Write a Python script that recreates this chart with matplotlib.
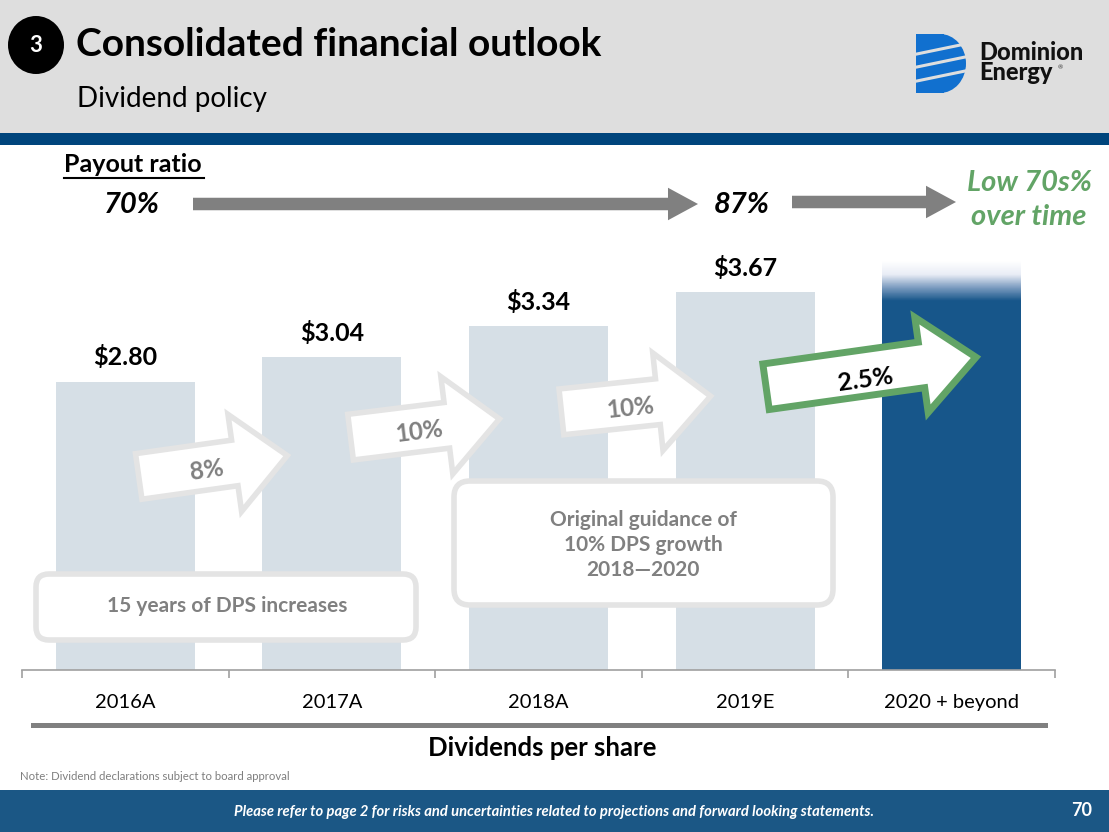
"""
Dominion Energy - consolidated financial outlook, dividend policy slide.
Writes out.png (1109x832).
"""

import numpy as np
import matplotlib
matplotlib.use("Agg")
import matplotlib.pyplot as plt
from matplotlib.patches import Polygon, FancyBboxPatch, Rectangle, Ellipse


W, H = 1109, 832
FONT = "Lato"

# data
categories = ["2016A", "2017A", "2018A", "2019E", "2020 + beyond"]
dps = [2.80, 3.04, 3.34, 3.67, 3.97]          # last bar is the open-ended outlook
dps_labels = ["$2.80", "$3.04", "$3.34", "$3.67", ""]
growth_labels = ["8%", "10%", "10%", "2.5%"]
payout_labels = ["70%", "87%"]
payout_outlook = "Low 70s%\nover time"

LIGHT_BAR = "#D6DFE6"
DARK_BAR = "#17568A"
HEADER_GRAY = "#DEDEDE"
HEADER_BLUE = "#00457C"
FOOTER_BLUE = "#1B5785"
GREEN = "#62A466"
GRAY_TXT = "#808080"
BOX_EDGE = "#E4E4E4"


def block_arrow(ax, cx, cy, length, shaft_h, head_len, head_h, angle, **kw):
    # arrow polygon in pixel coords (y down), rotated by angle deg (ccw on screen)
    x0 = -length / 2
    xh = length / 2 - head_len
    pts = np.array([
        [x0, -shaft_h / 2], [xh, -shaft_h / 2], [xh, -head_h / 2],
        [length / 2, 0], [xh, head_h / 2], [xh, shaft_h / 2], [x0, shaft_h / 2],
    ])
    a = np.deg2rad(angle)
    rot = np.array([[np.cos(a), np.sin(a)], [-np.sin(a), np.cos(a)]])
    pts = pts @ rot.T + [cx, cy]
    ax.add_patch(Polygon(pts, closed=True, joinstyle="miter", **kw))


def main():
    fig = plt.figure(figsize=(W / 100, H / 100), dpi=100)
    fig.patch.set_facecolor("white")

    # ---- bar chart, bottom spine at y=670px, spans x 22..1055px
    ax = fig.add_axes([22 / W, (H - 670) / H, (1055 - 22) / W, 432 / H], zorder=1)
    x = np.arange(len(categories))
    colors = [LIGHT_BAR] * (len(categories) - 1) + [DARK_BAR]
    ymax = 432 / 103.0
    ax.bar(x, dps, width=0.672, color=colors, zorder=1)

    # fade the top of the outlook bar into white
    fade_top = dps[-1]
    fade_bot = fade_top - 40 / 103.0
    grad = np.linspace(0, 1, 128).reshape(-1, 1)
    cmap = matplotlib.colors.LinearSegmentedColormap.from_list(
        "fade", ["white", "#E9EDF6", "#7C9CC0", DARK_BAR])
    ax.imshow(grad, extent=(x[-1] - 0.336, x[-1] + 0.336, fade_bot, fade_top),
              cmap=cmap, aspect="auto", zorder=2, interpolation="nearest")

    for xi, v, lab in zip(x, dps, dps_labels):
        if lab:
            ax.text(xi, v + 0.12, lab, ha="center", va="bottom", fontsize=18,
                    fontweight="bold", family=FONT, color="black")

    ax.set_xlim(-0.5, len(categories) - 0.5)
    ax.set_ylim(0, ymax)
    for s in ["top", "right", "left"]:
        ax.spines[s].set_visible(False)
    ax.spines["bottom"].set_color("#A0A0A0")
    ax.spines["bottom"].set_linewidth(1.2)
    ax.set_yticks([])
    ax.set_xticks(x)
    ax.set_xticklabels(categories, fontsize=14.5, family=FONT)
    ax.tick_params(axis="x", which="major", length=0, pad=17)
    ax.set_xticks(np.arange(-0.5, len(categories)), minor=True)
    ax.tick_params(axis="x", which="minor", length=5.5, color="#A0A0A0", width=1.2)
    ax.patch.set_alpha(0)

    # ---- overlay in pixel coordinates for slide furniture
    ov = fig.add_axes([0, 0, 1, 1], zorder=2)
    ov.set_xlim(0, W)
    ov.set_ylim(H, 0)
    ov.axis("off")
    ov.patch.set_alpha(0)

    # header
    ov.add_patch(Rectangle((0, 0), W, 133, color=HEADER_GRAY, lw=0))
    ov.add_patch(Rectangle((0, 133), W, 12, color=HEADER_BLUE, lw=0))
    ov.add_patch(Ellipse((36, 45), 56, 58, color="black", lw=0))
    ov.text(36, 46, "3", ha="center", va="center", color="white", fontsize=16,
            fontweight="bold", family=FONT)
    ov.text(76, 45, "Consolidated financial outlook", ha="left", va="center",
            fontsize=28, fontweight="bold", family=FONT, color="black")
    ov.text(77, 99, "Dividend policy", ha="left", va="center", fontsize=20,
            family=FONT, color="black")

    # logo: blue "D" with white slanted stripes
    logo_blue = "#1170CF"
    ov.add_patch(Rectangle((916, 34), 28, 59, color=logo_blue, lw=0))
    ov.add_patch(Ellipse((940, 63.5), 52, 59, color=logo_blue, lw=0))
    ov.add_patch(Rectangle((912, 30), 4, 66, color=HEADER_GRAY, lw=0))
    for y0 in [50, 63, 77]:
        ov.plot([912, 970], [y0 + 5, y0 - 7], color=HEADER_GRAY, lw=2.2,
                solid_capstyle="butt")
    ov.text(979, 52, "Dominion", ha="left", va="center", fontsize=17,
            fontweight=900, family=FONT, color="#111111")
    ov.text(979, 73, "Energy", ha="left", va="center", fontsize=17,
            fontweight=900, family=FONT, color="#111111")
    ov.text(1058, 68, "®", ha="left", va="center", fontsize=4.5, family=FONT,
            color="#333333")

    # payout ratio row
    ov.text(64, 164, "Payout ratio", ha="left", va="center", fontsize=18,
            fontweight="bold", family=FONT, color="black")
    ov.plot([64, 204], [178, 178], color="black", lw=1.5)
    ov.text(132, 205, payout_labels[0], ha="center", va="center", fontsize=21,
            fontweight="bold", style="italic", family=FONT, color="black")
    ov.text(742, 205, payout_labels[1], ha="center", va="center", fontsize=21,
            fontweight="bold", style="italic", family=FONT, color="black")
    arrow_style = "simple,head_length=1.2,head_width=1.3,tail_width=0.5"
    ov.annotate("", xy=(698, 204), xytext=(193, 204),
                arrowprops=dict(arrowstyle=arrow_style, color="#808080", lw=0,
                                shrinkA=0, shrinkB=0, mutation_scale=18))
    ov.annotate("", xy=(956, 202), xytext=(792, 202),
                arrowprops=dict(arrowstyle=arrow_style, color="#808080", lw=0,
                                shrinkA=0, shrinkB=0, mutation_scale=18))
    ov.text(1029, 200, payout_outlook, ha="center", va="center", fontsize=21,
            fontweight="bold", style="italic", family=FONT, color=GREEN,
            linespacing=1.4)

    # growth block arrows between bars
    arrow_geo = [  # cx, cy, angle
        (213, 466, 8),
        (425, 428, 7),
        (636, 404, 6),
        (871, 372, 8),
    ]
    for i, ((cx, cy, ang), lab) in enumerate(zip(arrow_geo, growth_labels)):
        last = i == len(growth_labels) - 1
        if last:
            block_arrow(ov, cx, cy, 212, 46, 55, 96, ang, facecolor="white",
                        edgecolor=GREEN, lw=5)
            ov.text(cx - 6, cy + 8, lab, ha="center", va="center", rotation=ang,
                    fontsize=18, fontweight="bold", family=FONT, color="black")
        else:
            block_arrow(ov, cx, cy, 150, 46, 53, 98, ang, facecolor="white",
                        edgecolor=BOX_EDGE, lw=4)
            ov.text(cx - 6, cy + 4, lab, ha="center", va="center", rotation=ang,
                    fontsize=17.5, fontweight="bold", family=FONT, color=GRAY_TXT)

    # rounded call-out boxes
    ov.add_patch(FancyBboxPatch((36, 574), 380, 66, boxstyle="round,pad=0,rounding_size=13",
                                facecolor="white", edgecolor=BOX_EDGE, lw=4))
    ov.text(227, 606, "15 years of DPS increases", ha="center", va="center",
            fontsize=15, fontweight="bold", family=FONT, color=GRAY_TXT)
    ov.add_patch(FancyBboxPatch((454, 481), 379, 124, boxstyle="round,pad=0,rounding_size=16",
                                facecolor="white", edgecolor=BOX_EDGE, lw=4))
    ov.text(643, 545, "Original guidance of\n10% DPS growth\n2018\u20142020", ha="center",
            va="center", fontsize=15, fontweight="bold", family=FONT,
            color=GRAY_TXT, linespacing=1.3)

    # chart title underline bar and title
    ov.add_patch(Rectangle((31, 723), 1017, 5, color="#808080", lw=0))
    ov.text(542, 748, "Dividends per share", ha="center", va="center", fontsize=18.5,
            fontweight="bold", family=FONT, color="black")

    # note + footer
    ov.text(20, 777, "Note: Dividend declarations subject to board approval", ha="left",
            va="center", fontsize=8.2, family=FONT, color="#7F7F7F")
    ov.add_patch(Rectangle((0, 790), W, H - 790, color=FOOTER_BLUE, lw=0))
    ov.text(554, 812, "Please refer to page 2 for risks and uncertainties related to "
            "projections and forward looking statements.", ha="center", va="center",
            fontsize=10.6, fontweight="bold", style="italic", family=FONT, color="white")
    ov.text(1082, 810, "70", ha="center", va="center", fontsize=13,
            fontweight="bold", family=FONT, color="white")

    fig.savefig("out.png", dpi=100)


if __name__ == "__main__":
    main()
